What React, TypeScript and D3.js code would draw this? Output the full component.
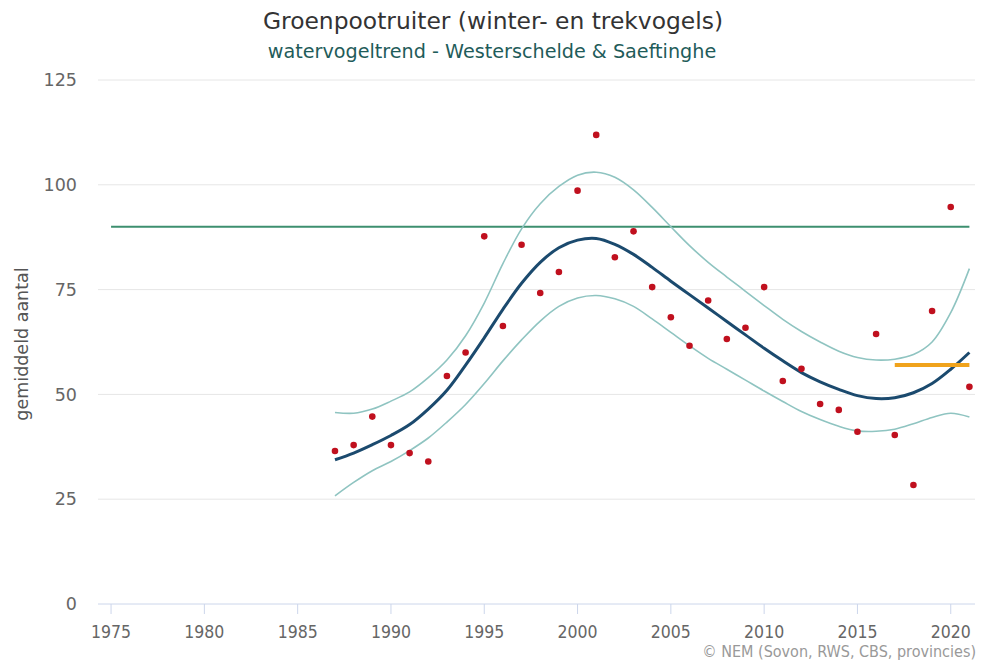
import { useMemo } from "react";
import * as d3 from "d3";

const WIDTH = 981;
const HEIGHT = 661;
const PLOT = { left: 98, right: 975, top: 80, bottom: 604 };

const years = d3.range(1987, 2022);

// jaarlijkse tellingen (rode punten)
const counts = [
  36.5, 37.9, 44.7, 37.9, 36, 34, 54.4, 60, 87.7, 66.3, 85.7, 74.2, 79.2, 98.6,
  111.9, 82.7, 88.9, 75.6, 68.4, 61.6, 72.4, 63.2, 65.9, 75.6, 53.2, 56.1, 47.7,
  46.3, 41.1, 64.4, 40.3, 28.4, 69.9, 94.7, 51.8,
];

const trend = [
  34.4, 36, 38, 40.2, 42.8, 46.5, 51, 57, 63.5, 70.3, 76.5, 81.5, 85, 86.8, 87.2,
  85.8, 83.4, 80.3, 77, 73.8, 70.6, 67.4, 64.2, 61, 58, 55.2, 53, 51.2, 49.7,
  49, 49.2, 50.4, 52.6, 56, 60,
];

const upper = [
  45.7, 45.5, 46.5, 48.4, 50.6, 54, 58.2, 64, 71.8, 81.2, 89.5, 95.5, 99.6, 102.3,
  103, 101.8, 98.8, 94.6, 90, 85.5, 81.5, 78, 74.6, 71.2, 67.9, 65, 62.5, 60.3,
  58.8, 58.2, 58.4, 59.5, 62.5, 69.5, 80,
];

const lower = [
  25.8, 29, 31.8, 34, 36.6, 39.6, 43.4, 47.6, 52.6, 58, 63, 67.5, 71, 73, 73.6,
  72.8, 71, 68, 64.8, 61.6, 58.6, 56, 53.4, 50.8, 48.3, 45.9, 44, 42.4, 41.3,
  41.2, 41.7, 43, 44.5, 45.5, 44.6,
];

const referenceLevel = 90;
const recentYears = [2017, 2021];
const recentLevel = 57;

const xTicks = d3.range(1975, 2021, 5);
const yTicks = [0, 25, 50, 75, 100, 125];

export default function App() {
  const x = useMemo(
    () => d3.scaleLinear().domain([1974.3, 2021.3]).range([PLOT.left, PLOT.right]),
    []
  );
  const y = useMemo(
    () => d3.scaleLinear().domain([0, 125]).range([PLOT.bottom, PLOT.top]),
    []
  );

  const line = d3
    .line<number>()
    .x((_, i) => x(years[i]))
    .y((d) => y(d))
    .curve(d3.curveCatmullRom.alpha(0.5));

  const font = "'DejaVu Sans', Verdana, sans-serif";

  return (
    <svg
      width={WIDTH}
      height={HEIGHT}
      style={{ position: "absolute", left: 0, top: 0, background: "#fff" }}
      fontFamily={font}
    >
      <text x={493} y={29} textAnchor="middle" fontSize={23.4} fill="#333">
        Groenpootruiter (winter- en trekvogels)
      </text>
      <text x={492} y={58} textAnchor="middle" fontSize={19.2} fill="#1f5c5a">
        watervogeltrend - Westerschelde &amp; Saeftinghe
      </text>

      {yTicks.map((t) => (
        <g key={t}>
          {t > 0 && (
            <line
              x1={PLOT.left}
              x2={PLOT.right}
              y1={y(t)}
              y2={y(t)}
              stroke="#e6e6e6"
              strokeWidth={1}
            />
          )}
          <text
            x={77}
            y={y(t)}
            dy="0.35em"
            textAnchor="end"
            fontSize={17.5}
            fill="#666"
          >
            {t}
          </text>
        </g>
      ))}

      <text
        transform={`translate(28,${(PLOT.top + PLOT.bottom) / 2 + 2}) rotate(-90)`}
        textAnchor="middle"
        fontSize={17.5}
        fill="#555"
      >
        gemiddeld aantal
      </text>

      <line
        x1={PLOT.left}
        x2={PLOT.right}
        y1={PLOT.bottom}
        y2={PLOT.bottom}
        stroke="#ccd6eb"
        strokeWidth={1}
      />
      {xTicks.map((t) => (
        <g key={t}>
          <line
            x1={x(t)}
            x2={x(t)}
            y1={PLOT.bottom}
            y2={PLOT.bottom + 10}
            stroke="#ccd6eb"
          />
          <text
            x={x(t)}
            y={638}
            textAnchor="middle"
            fontSize={17.5}
            fill="#666"
            style={{ fontStretch: "condensed" }}
          >
            {t}
          </text>
        </g>
      ))}

      <line
        x1={x(1975)}
        x2={x(2021)}
        y1={y(referenceLevel)}
        y2={y(referenceLevel)}
        stroke="#3d8f6f"
        strokeWidth={2}
      />

      <path d={line(upper) ?? ""} fill="none" stroke="#8fc4c1" strokeWidth={1.6} />
      <path d={line(lower) ?? ""} fill="none" stroke="#8fc4c1" strokeWidth={1.6} />
      <path d={line(trend) ?? ""} fill="none" stroke="#1b4a6e" strokeWidth={3} />

      <line
        x1={x(recentYears[0])}
        x2={x(recentYears[1])}
        y1={y(recentLevel)}
        y2={y(recentLevel)}
        stroke="#f0a31c"
        strokeWidth={4}
      />

      {counts.map((c, i) => (
        <circle key={years[i]} cx={x(years[i])} cy={y(c)} r={3.3} fill="#c0101e" />
      ))}

      <text
        x={976}
        y={657}
        textAnchor="end"
        fontSize={16}
        fill="#999"
        style={{ fontStretch: "condensed" }}
      >
        © NEM (Sovon, RWS, CBS, provincies)
      </text>
    </svg>
  );
}
